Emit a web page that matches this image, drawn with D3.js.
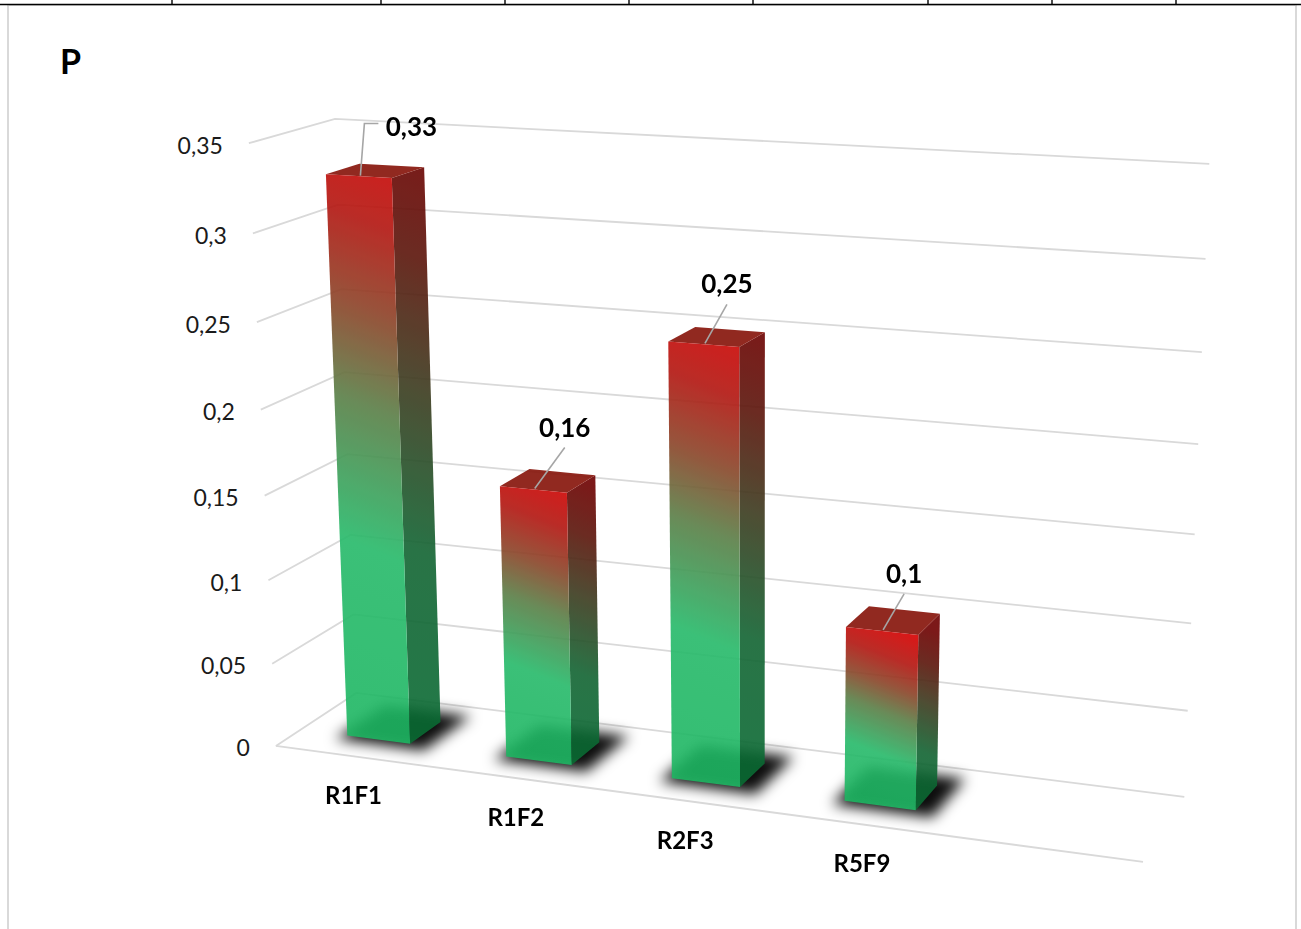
<!DOCTYPE html>
<html>
<head>
<meta charset="utf-8">
<script src="https://cdn.jsdelivr.net/npm/d3@7"></script>
<style>
  html, body { margin: 0; padding: 0; background: #fff; }
  svg { display: block; }
  text { font-family: Lato, "Open Sans", "DejaVu Sans", sans-serif; }
</style>
</head>
<body>
<svg id="chart" width="1301" height="929"></svg>
<script>
// ---- data ----
const title = "P";
// category axis cells (the last cell of the range is empty)
const categories = ["R1F1", "R1F2", "R2F3", "R5F9", ""];
const values = [0.33, 0.16, 0.25, 0.1, null];
const yTicks = [0, 0.05, 0.1, 0.15, 0.2, 0.25, 0.3, 0.35];
// label placement relative to the top of each bar (px)
const labelNudge = [[51, -49], [30, -61], [22, -59], [21, -56]];
// worksheet column borders visible above the chart
const sheetColumnEdges = [172, 381, 505, 629, 753, 928, 1052, 1176];

// ---- layout ----
const W = 1301, H = 929;
// screen position of the corners of the 3-D plot box (u: categories, v: value, w: depth)
const frameAnchors = [
  { p: [0, 0, 0], s: [275, 746] },
  { p: [0, 1, 0], s: [248, 143] },
  { p: [0, 1, 1], s: [335, 119] },
  { p: [1, 1, 1], s: [1208, 164] },
  { p: [1, 0, 1], s: [1183, 797] },
  { p: [1, 0, 0], s: [1143, 862] },
  { p: [0, 0.1 / 0.35, 0], s: [269, 580] },
  { p: [0, 0.2 / 0.35, 0], s: [262, 410] },
  { p: [1, 0.2 / 0.35, 1], s: [1200, 444] },
  { p: [1, 0.1 / 0.35, 1], s: [1192, 623] }
];

// least-squares camera matrix (3x4, last entry fixed at 1)
function solveLinear(A, b) {
  const n = b.length;
  const M = A.map((r, i) => r.concat([b[i]]));
  for (let c = 0; c < n; c++) {
    let piv = c;
    for (let r = c + 1; r < n; r++) if (Math.abs(M[r][c]) > Math.abs(M[piv][c])) piv = r;
    [M[c], M[piv]] = [M[piv], M[c]];
    for (let r = 0; r < n; r++) {
      if (r === c) continue;
      const f = M[r][c] / M[c][c];
      for (let k = c; k <= n; k++) M[r][k] -= f * M[c][k];
    }
  }
  return M.map((r, i) => r[n] / r[i]);
}
function fitCamera(anchors) {
  const rows = [], rhs = [];
  anchors.forEach(({ p: [X, Y, Z], s: [x, y] }) => {
    rows.push([X, Y, Z, 1, 0, 0, 0, 0, -x * X, -x * Y, -x * Z]); rhs.push(x);
    rows.push([0, 0, 0, 0, X, Y, Z, 1, -y * X, -y * Y, -y * Z]); rhs.push(y);
  });
  const n = 11;
  const AtA = d3.range(n).map(() => new Array(n).fill(0));
  const Atb = new Array(n).fill(0);
  rows.forEach((r, i) => {
    for (let a = 0; a < n; a++) {
      Atb[a] += r[a] * rhs[i];
      for (let c = 0; c < n; c++) AtA[a][c] += r[a] * r[c];
    }
  });
  return solveLinear(AtA, Atb);
}
const cam = fitCamera(frameAnchors);
function project(u, v, w) {
  const d = cam[8] * u + cam[9] * v + cam[10] * w + 1;
  return [(cam[0] * u + cam[1] * v + cam[2] * w + cam[3]) / d,
          (cam[4] * u + cam[5] * v + cam[6] * w + cam[7]) / d];
}

// ---- scales ----
const x = d3.scaleBand().domain(d3.range(categories.length)).range([0, 1])
  .paddingInner(0.6).paddingOuter(0.3);
const y = d3.scaleLinear().domain([0, 0.35]).range([0, 1]);
const depth = [0.3, 0.7];
const fmt = d3.formatLocale({ decimal: ",", thousands: " ", grouping: [3], currency: ["", " €"] }).format(".2~f");

const svg = d3.select("#chart");
const defs = svg.append("defs");
const line = d3.line();

// ---- worksheet & chart frame ----
svg.append("rect").attr("x", 8).attr("y", 5).attr("width", 1288).attr("height", H + 10)
  .attr("fill", "#fff").attr("stroke", "#d9d9d9").attr("stroke-width", 2);
svg.append("line").attr("x1", 0).attr("x2", W).attr("y1", 4.5).attr("y2", 4.5)
  .attr("stroke", "#000").attr("stroke-width", 1.6);
svg.selectAll("line.col").data(sheetColumnEdges).join("line").attr("class", "col")
  .attr("x1", d => d).attr("x2", d => d).attr("y1", 0).attr("y2", 4.5)
  .attr("stroke", "#000").attr("stroke-width", 1.4);

svg.append("text").attr("x", 60).attr("y", 74).attr("font-size", 34).attr("font-weight", 700)
  .attr("fill", "#000").text(title);

// ---- gridlines on walls and floor ----
const grid = svg.append("g").attr("fill", "none").attr("stroke", "#d9d9d9").attr("stroke-width", 1.8);
yTicks.forEach(t => {
  const v = y(t);
  grid.append("path").attr("d", line([project(0, v, 0), project(0, v, 1), project(1, v, 1)]));
});
grid.append("path").attr("d", line([project(0, 0, 0), project(1, 0, 0)]));

// y tick labels
svg.append("g").selectAll("text").data(yTicks).join("text")
  .attr("x", d => project(0, y(d), 0)[0] - 26)
  .attr("y", d => project(0, y(d), 0)[1] + 10.5)
  .attr("text-anchor", "end").attr("font-size", 23).attr("fill", "#1a1a1a")
  .text(d => fmt(d));

// ---- bars ----
const bars = values.map((v, i) => ({ i, v })).filter(d => d.v != null);

const blur = defs.append("filter").attr("id", "shadowBlur")
  .attr("x", "-50%").attr("y", "-50%").attr("width", "200%").attr("height", "200%");
blur.append("feGaussianBlur").attr("stdDeviation", 7);

// floor shadows
svg.append("g").attr("filter", "url(#shadowBlur)").selectAll("path").data(bars).join("path")
  .attr("fill", "#000").attr("opacity", 0.95)
  .attr("d", d => {
    const u0 = x(d.i) - 0.014, u1 = x(d.i) + x.bandwidth() + 0.018;
    const w0 = depth[0] - 0.05, w1 = depth[1] + 0.18;
    return line([project(u0, 0, w0), project(u1, 0, w0), project(u1, 0, w1), project(u0, 0, w1)]
      .map(p => [p[0] + 3, p[1] + 2])) + "Z";
  });

const frontStops = [
  [0, "rgb(30,182,98)"], [0.3, "rgb(38,186,106)"], [0.52, "rgb(90,126,70)"],
  [0.66, "rgb(138,68,40)"], [0.8, "rgb(178,22,16)"], [0.95, "rgb(212,0,0)"]
];
const sideStops = [
  [0, "rgb(10,108,52)"], [0.3, "rgb(18,100,50)"], [0.55, "rgb(60,58,30)"],
  [0.75, "rgb(92,20,10)"], [0.92, "rgb(110,0,0)"]
];
// gradient running up and to the right across a face of height h
function gradient(id, bottom, top, stops) {
  const h = bottom[1] - top[1];
  const g = defs.append("linearGradient").attr("id", id).attr("gradientUnits", "userSpaceOnUse")
    .attr("x1", bottom[0]).attr("y1", bottom[1]).attr("x2", bottom[0] + 0.4 * h).attr("y2", top[1]);
  stops.forEach(([o, c]) => g.append("stop").attr("offset", o).attr("stop-color", c));
}

const barLayer = svg.append("g").attr("opacity", 0.9);
bars.forEach(d => {
  const u0 = x(d.i), u1 = x(d.i) + x.bandwidth();
  const [w0, w1] = depth, v = y(d.v);
  const g = barLayer.append("g");
  gradient("front" + d.i, project(u0, 0, w0), project(u0, v, w0), frontStops);
  gradient("side" + d.i, project(u1, 0, w0), project(u1, v, w0), sideStops);
  g.append("path").attr("fill", `url(#side${d.i})`)
    .attr("d", line([project(u1, 0, w0), project(u1, 0, w1), project(u1, v, w1), project(u1, v, w0)]) + "Z");
  g.append("path").attr("fill", "#861208")
    .attr("d", line([project(u0, v, w0), project(u1, v, w0), project(u1, v, w1), project(u0, v, w1)]) + "Z");
  g.append("path").attr("fill", `url(#front${d.i})`)
    .attr("d", line([project(u0, 0, w0), project(u1, 0, w0), project(u1, v, w0), project(u0, v, w0)]) + "Z");
});

// ---- data labels with leader lines ----
const labels = svg.append("g");
bars.forEach(d => {
  const uc = x(d.i) + x.bandwidth() / 2;
  const s = project(uc, y(d.v), depth[0] + 0.02);
  const [dx, dy] = labelNudge[d.i];
  const lx = s[0] + dx, ly = s[1] + dy;
  const pts = dx > 40
    ? [s, [s[0] + 4, ly - 3], [lx - 33, ly - 3]]
    : [s, [lx, ly + 20]];
  labels.append("path").attr("d", line(pts)).attr("fill", "none")
    .attr("stroke", "#a6a6a6").attr("stroke-width", 1.6);
  labels.append("text").attr("x", lx).attr("y", ly + 9).attr("text-anchor", "middle")
    .attr("font-size", 26).attr("font-weight", 700).attr("fill", "#000").text(fmt(d.v));
});

// ---- category labels ----
svg.append("g").selectAll("text").data(categories.map((c, i) => ({ c, i })).filter(d => d.c))
  .join("text")
  .attr("x", d => project(x(d.i) + x.bandwidth() / 2, 0, 0)[0] - 1)
  .attr("y", d => project(x(d.i) + x.bandwidth() / 2, 0, 0)[1] + 48)
  .attr("text-anchor", "middle").attr("font-size", 24).attr("font-weight", 700).attr("fill", "#000")
  .text(d => d.c);
</script>
</body>
</html>
